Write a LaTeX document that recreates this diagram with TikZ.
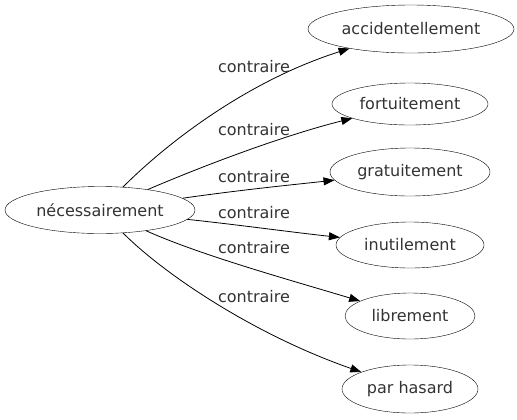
\documentclass[tikz,border=0pt]{standalone}
\usepackage{fontspec}
\setmainfont{DejaVu Sans}
\usetikzlibrary{arrows.meta,shapes.geometric}

\begin{document}
\begin{tikzpicture}[
  x=1bp, y=-1bp,
  font=\fontsize{16bp}{19bp}\selectfont,
  word/.style={draw, ellipse, inner sep=0pt, minimum height=47bp},
  rel/.style={-{Triangle[length=11bp,width=8bp]}, line width=0.8bp},
  lbl/.style={inner sep=0pt, text=black!80},
]
\useasboundingbox (0,0) rectangle (517,419);
\node[word, minimum width=190bp, text=black!80] (src) at (100,210) {nécessairement};
\node[word, minimum width=206bp, minimum height=48bp, text=black!80] (acc) at (411,29) {accidentellement};
\node[word, minimum width=156bp, minimum height=42bp, text=black!80] (fort) at (410,104) {fortuitement};
\node[word, minimum width=160bp, minimum height=48bp, text=black!80] (grat) at (410,172) {gratuitement};
\node[word, minimum width=148bp, minimum height=46bp, text=black!80] (inut) at (410,245) {inutilement};
\node[word, minimum width=130bp, minimum height=46bp, text=black!80] (libr) at (410,316) {librement};
\node[word, minimum width=136bp, minimum height=48bp, text=black!80] (hasard) at (410,389) {par hasard};
% edges
\draw[rel] (src) .. controls (170,140) and (250,80) .. (acc);
\draw[rel] (src) .. controls (205,165) and (285,135) .. (fort);
\draw[rel] (src) .. controls (240,190) and (290,185) .. (grat);
\draw[rel] (src) .. controls (240,225) and (290,232) .. (inut);
\draw[rel] (src) .. controls (200,255) and (290,280) .. (libr);
\draw[rel] (src) .. controls (165,275) and (255,335) .. (hasard);
% labels
\node[lbl] (l1) at (254,67) {contraire};
\node[lbl] (l2) at (254,130) {contraire};
\node[lbl] (l3) at (254,177) {contraire};
\node[lbl] (l4) at (254,213) {contraire};
\node[lbl] (l5) at (254,248) {contraire};
\node[lbl] (l6) at (254,297) {contraire};
\end{tikzpicture}
\end{document}
